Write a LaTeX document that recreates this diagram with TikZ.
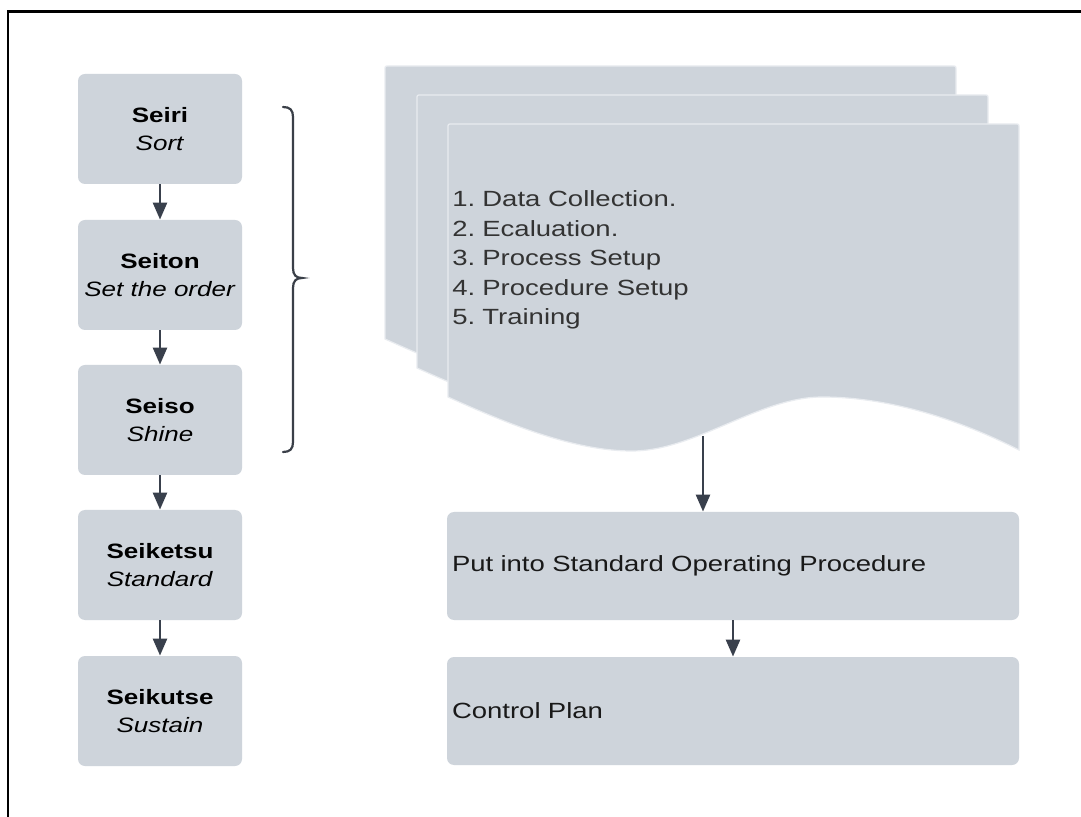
\documentclass[tikz,border=0pt]{standalone}
\usepackage{fontspec}
\setmainfont{Liberation Sans}[FakeStretch=1.25]
\usetikzlibrary{arrows.meta}
\definecolor{boxfill}{HTML}{CED4DB}
\definecolor{edgeline}{HTML}{E9ECF0}
\definecolor{arrowcol}{HTML}{39404C}
\definecolor{bracecol}{HTML}{3A3F48}
\definecolor{listtext}{HTML}{333333}
\begin{document}
\begin{tikzpicture}[x=0.5pt,y=-0.5pt,
  stepbox/.style={fill=boxfill, rounded corners=3.5pt, minimum width=82pt,
    minimum height=55pt, inner sep=0pt, align=center,
    font=\fontsize{10.4}{14}\selectfont, text=black},
  widebox/.style={fill=boxfill, rounded corners=3.5pt, minimum width=286pt,
    minimum height=54pt, inner xsep=2.5pt, inner ysep=0pt, text width=281pt,
    align=left, font=\fontsize{11}{14}\selectfont, text=black!90},
  flow/.style={draw=arrowcol, line width=1.3pt,
    -{Triangle[width=7pt,length=8.5pt]}},
  sheet/.style={fill=boxfill, draw=edgeline, line width=0.6pt},
  docsheet/.pic={
    \path[sheet] (0,273) -- (0,4) .. controls (0,0) .. (4,0) -- (567,0)
      .. controls (571,0) .. (571,4) -- (571,326)
      .. controls (512,296) and (442,273) .. (374,273)
      .. controls (311,273) and (247,327) .. (184,327)
      .. controls (127,327) and (62,301) .. (0,273) -- cycle;
  }]
\useasboundingbox (0,0) rectangle (1081,817);
\fill[white] (0,0) rectangle (1081,817);

% outer frame (top and left edges)
\draw[line width=1.3pt] (8,817) -- (8,11.3) -- (1081,11.3);

% 5S steps
\node[stepbox] (seiri)    at (160,129) {\textbf{Seiri}\\\textit{Sort}};
\node[stepbox] (seiton)   at (160,275) {\textbf{Seiton}\\\textit{Set the order}};
\node[stepbox] (seiso)    at (160,420) {\textbf{Seiso}\\\textit{Shine}};
\node[stepbox] (seiketsu) at (160,565) {\textbf{Seiketsu}\\\textit{Standard}};
\node[stepbox] (seikutse) at (160,711) {\textbf{Seikutse}\\\textit{Sustain}};

\draw[flow] (seiri) -- (seiton);
\draw[flow] (seiton) -- (seiso);
\draw[flow] (seiso) -- (seiketsu);
\draw[flow] (seiketsu) -- (seikutse);

% brace grouping the first three steps
\draw[bracecol, line width=1.1pt, line cap=round]
  (283,107) .. controls (290,107) and (293,110) .. (293,117) -- (293,268)
  .. controls (293,275) and (296,278) .. (302,278)
  .. controls (296,278) and (293,281) .. (293,288) -- (293,442)
  .. controls (293,449) and (290,452) .. (283,452);

% stacked document sheets
\pic at (385,66) {docsheet};
\pic at (417,95) {docsheet};
\pic at (448,124) {docsheet};

\node[anchor=west, align=left, inner sep=0pt, text=listtext,
  font=\fontsize{11}{14.75}\selectfont] (steps) at (452,260)
  {\makebox[15pt][l]{1.}Data Collection.\\
   \makebox[15pt][l]{2.}Ecaluation.\\
   \makebox[15pt][l]{3.}Process Setup\\
   \makebox[15pt][l]{4.}Procedure Setup\\
   \makebox[15pt][l]{5.}Training};

\coordinate (docout) at (703,436);

% procedure boxes
\node[widebox] (sop) at (733,566) {Put into Standard Operating Procedure};
\node[widebox] (plan) at (733,711) {Control Plan};

\draw[flow] (docout) -- (docout |- sop.north);
\draw[flow] (sop) -- (plan);
\end{tikzpicture}
\end{document}
